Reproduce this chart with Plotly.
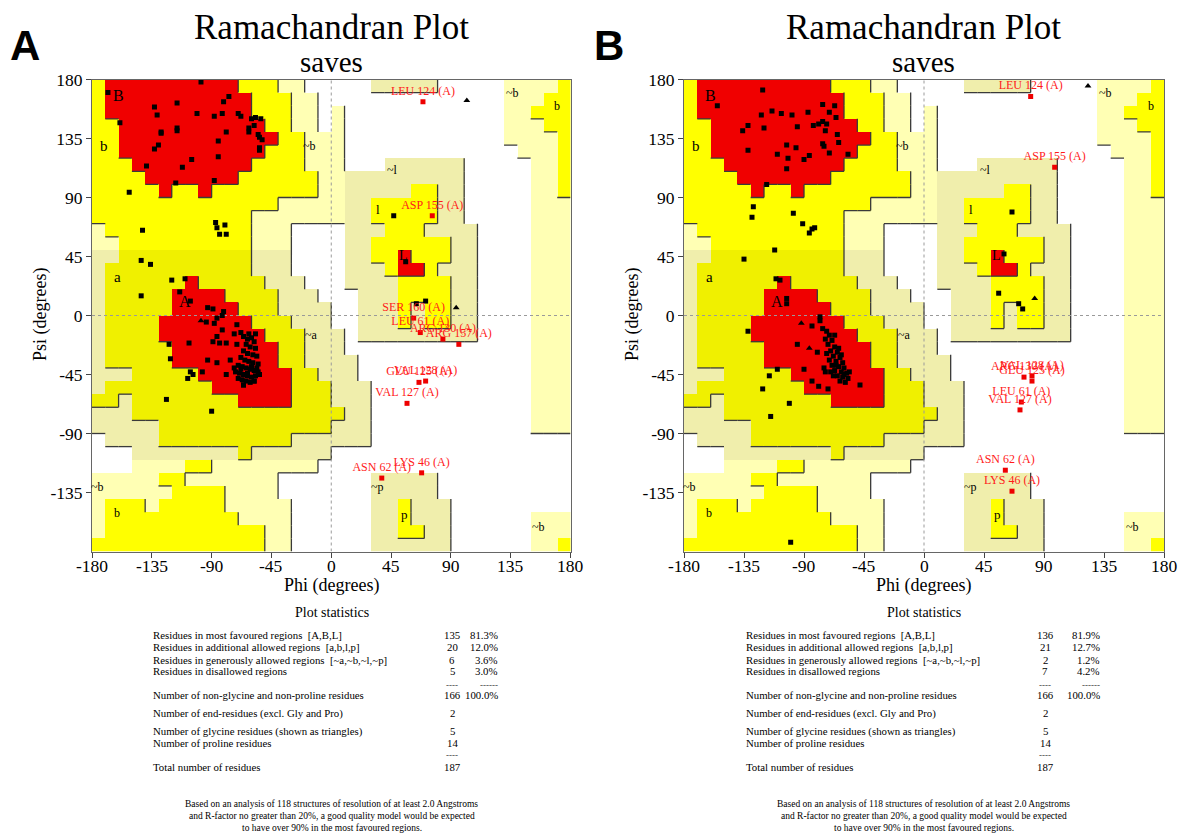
import plotly.graph_objects as go

W, H = 1183, 833
SERIF = "Liberation Serif"

PHI_TICKS = [-180, -135, -90, -45, 0, 45, 90, 135, 180]
PSI_TICKS = [-135, -90, -45, 0, 45, 90, 135, 180]

# PROCHECK region map, 10-degree cells. Rows: psi 170..180 (top) down to psi -180..-170.
# Columns: phi -180..-170 ... 170..180.
# '.' disallowed, 'g' ~b, 'e' ~a/~l/~p, 'y' b/l/p, 'a' a, 'r' A/B/L
REGION_ROWS = [
    "yrrrrrrrrrryyygg.....eeeee.....ggggy",  # 170
    "yrrrrrrrrrrryyygg..............gggyy",  # 160
    "yrrrrrrrrrrryyygg.g............ggyyy",  # 150
    "yyrrrrrrrrrrryygg.g............gggyy",  # 140
    "yyrrrrrrrrrrrryyggg............ggggy",  # 130
    "yyrrrrrrrrrrryyyggg.............gggy",  # 120
    "yyyrrrrrrrrryyyyggg...eeeeee.....ggy",  # 110
    "yyyyrrrrrrryyyyyyggeeeeeeeee.....ggy",  # 100
    "yyyyyryyryyyyyyyyggeeeeeyyee.....ggy",  # 90
    "yyyyyyyyyyyyyygggggeeyyyyyee.....ggg",  # 80
    "yyyyyyyyyyyygggggggeeyyyyyee.....ggg",  # 70
    "gyyyyyyyyyyyggg....eeeyyyeeee....ggg",  # 60
    "ggyyyyyyyyyyggg....eeyyyyyyee....ggg",  # 50
    "eeaaaaaaaaaaeee....eeyyryyyee....ggg",  # 40
    "eaaaaaaaaaaaeee....eeeyrryeee....ggg",  # 30
    "eaaaaaaraaaaaeee...eeeeyyyyee....ggg",  # 20
    "eaaaaarrrraaaaeee...eeeyyyyee....ggg",  # 10
    "eaaaaarrrrraaaeeee..eeeyeyyee....ggg",  # 0
    "eaaaarrrrrrraaaeee..eeeyeyyee....ggg",  # -10
    "eaaaarrrrrrrraaaeee.eeeeeeeee....ggg",  # -20
    "eaaaaarrrrrrrraaeee..............ggg",  # -30
    "eaaaaarrrrrrrraaeeee.............ggg",  # -40
    "eeeaaaaarrrrrrraaeee.............ggg",  # -50
    "eaaaaaaaarrrrrraaaeee............ggg",  # -60
    "aaeaaaaaaaarrrraaaeee............ggg",  # -70
    "eeeaaaaaaaaaaaaaaaaee............ggg",  # -80
    "eeeeeaaaaaaaaaaaaaeee............ggg",  # -90
    ".eeeeaaaaaaaaaaeeeeee...............",  # -100
    "...eeeeeeeeaeeeeee..................",  # -110
    "...ggggyygggggggg...................",  # -120
    "gggggyyggggggg.......eeeee..........",  # -130
    "ggggggyyyygggg.......eeeee..........",  # -140
    "gyyygyyyyyggggg......eeyeee.........",  # -150
    "gyyyyyyyyyygggg......eeyeee......ggg",  # -160
    "gyyyyyyyyyyyygg......eeyyee......ggg",  # -170
    "yyyyyyyyyyyyygg......eeeeee......ggy",  # -180
]
REGION_CODE = {".": 0, "g": 1, "e": 2, "y": 3, "a": 4, "r": 5}
REGION_RANK = {".": 0, "g": 1, "e": 1, "y": 2, "a": 2, "r": 3}
REGION_COLORS = ["#ffffff", "#ffffb4", "#f0eeac", "#ffff00", "#f0f000", "#f00000"]

REGION_LABELS = ["B", "b", "A", "a", "~b", "~a", "l", "L", "~l", "~b", "b", "~b", "b", "~p", "p", "~b"]
REGION_LABEL_PHI = [-160, -171, -110, -161, -16, -15, 35, 54, 46, 136, 170, -176, -161, 35, 55, 156]
REGION_LABEL_PSI = [168, 129, 11, 29, 129, -15, 81, 46, 111, 170, 160, -131, -151, -131, -152, -161]
REGION_LABEL_SIZE = [16, 15, 16, 15, 12, 12, 13, 14, 12, 12, 12, 12, 12, 12, 13, 12]

# ---------------- Panel A data ----------------
A_SQ_PHI = [-98, -168, -116, -133, -131, -101, -81, -77, -88, -82, -70, -68, -60, -57, -53, -159, -62, -58, -62, -55,
            -54, -52, -54, -54, -79, -85, -128, -128, -116, -116, -130, -133, -85, -105, -112, -139, -88, -117, -152,
            -87, -86, -80, -84, -79, -142, -143, -136, -120, -110, -114, -143, -106, -93, -89, -81, -82, -86, -94,
            -88, -71, -82, -73, -68, -62, -57, -86, -89, -84, -79, -71, -122, -107, -121, -93, -86, -76, -97, -106,
            -104, -108, -79, -124, -90, -66, -58,
            -66, -63, -60, -58, -64, -61, -57, -66, -63, -59, -56, -68, -65, -62, -59, -55, -70, -67, -64, -61, -58,
            -55, -72, -69, -66, -63, -60, -57, -54, -70, -67, -64, -61, -58, -66, -63, -60, -68, -73, -56,
            47, 56, 64, 71]
A_SQ_PSI = [178, 170, 162, 159, 153, 154, 163, 167, 152, 154, 154, 152, 150, 151, 150, 147, 143, 145, 140, 138,
            136, 134, 128, 126, 140, 133, 140, 139, 143, 141, 130, 127, 121, 119, 113, 114, 103, 101, 94,
            71, 67, 69, 62, 62, 65, 42, 39, 27, 28, 18, 15, 11, 6, 5, 3, 0, -2, -5,
            -6, -7, -11, -14, -13, -14, -14, -16, -20, -21, -21, -22, -22, -21, -33, -34, -36, -34, -43, -43,
            -45, -48, -45, -64, -73, -53, -50,
            -16, -18, -17, -20, -22, -24, -25, -27, -29, -30, -31, -32, -34, -35, -36, -37, -38, -39, -40, -41, -42,
            -43, -43, -44, -45, -46, -47, -46, -45, -48, -49, -50, -51, -50, -53, -44, -39, -41, -40, -40,
            76, 41, 9, 11]
A_GLY_PHI = [102, 94, -98]
A_GLY_PSI = [164, 6, -4]
A_OUT_LABEL = ["LEU 124 (A)", "ASP 155 (A)", "SER 160 (A)", "LEU 61 (A)", "ARG 130 (A)", "ARG 157 (A)",
               "GLU 125 (A)", "VAL 128 (A)", "VAL 127 (A)", "LYS 46 (A)", "ASN 62 (A)"]
A_OUT_PHI = [69, 76, 62, 67, 84, 96, 66, 71, 57, 68, 38]
A_OUT_PSI = [163, 76, -2, -13, -18, -22, -51, -50, -67, -120, -124]

# ---------------- Panel B data ----------------
B_SQ_PHI = [-121, -155, -76, -67, -114, -107, -99, -122, -87, -71, -66, -132, -136, -120, -95, -83, -79, -76, -73,
            -74, -65, -103, -96, -76, -75, -64, -132, -110, -102, -90, -86, -71, -57, -103, -118, -128, -129, -98,
            -91, -86, -84, -82, -112, -135, -111, -108, -103, -103, -84, -78, -78, -132, -95, -80, -90, -110, -116,
            -121, -101, -115, -84, -79, -72, -74, -48, -100,
            -76, -73, -71, -74, -69, -72, -67, -70, -65, -68, -63, -71, -66, -61, -69, -64, -60, -67, -62, -58, -65,
            -61, -57, -63, -59, -66, -62, -73, -60, -68, -75, -70, -56, -64, -67,
            66, 60, 56, 71, 74]
B_SQ_PSI = [172, 160, 161, 160, 156, 154, 153, 153, 155, 155, 151, 145, 141, 143, 144, 145, 146, 148, 146,
            141, 138, 130, 128, 131, 129, 132, 126, 123, 120, 119, 122, 124, 123, 112, 100, 83, 75, 78,
            70, 63, 66, 67, 50, 43, 28, 27, 13, 9, -8, -4, -1, -12, -22, -28, -41, -41, -46,
            -56, -67, -77, -50, -54, -56, -43, -53, -173,
            -10, -12, -15, -18, -19, -22, -24, -27, -28, -31, -32, -34, -35, -36, -38, -39, -40, -42, -43, -44, -46,
            -47, -48, -50, -51, -38, -30, -29, -45, -46, -40, -43, -43, -25, -15,
            79, 47, 17, 9, 5]
B_GLY_PHI = [123, 83, -92, -86]
B_GLY_PSI = [175, 13, -6, -25]
B_OUT_LABEL = ["LEU 124 (A)", "ASP 155 (A)", "ARG 130 (A)", "VAL 128 (A)", "GLU 125 (A)", "LEU 61 (A)",
               "VAL 127 (A)", "ASN 62 (A)", "LYS 46 (A)"]
B_OUT_PHI = [80, 98, 75, 81, 81, 73, 72, 61, 66]
B_OUT_PSI = [167, 113, -47, -46, -50, -66, -72, -118, -134]

# ---------------- Statistics ----------------
STAT_LABELS = ["Residues in most favoured regions\u00a0\u00a0[A,B,L]",
               "Residues in additional allowed regions\u00a0\u00a0[a,b,l,p]",
               "Residues in generously allowed regions\u00a0\u00a0[~a,~b,~l,~p]",
               "Residues in disallowed regions",
               "Number of non-glycine and non-proline residues",
               "Number of end-residues (excl. Gly and Pro)",
               "Number of glycine residues (shown as triangles)",
               "Number of proline residues",
               "Total number of residues"]
A_COUNTS = ["135", "20", "6", "5", "166", "2", "5", "14", "187"]
A_PCTS = ["81.3%", "12.0%", "3.6%", "3.0%", "100.0%", "", "", "", ""]
B_COUNTS = ["136", "21", "2", "7", "166", "2", "5", "14", "187"]
B_PCTS = ["81.9%", "12.7%", "1.2%", "4.2%", "100.0%", "", "", "", ""]
FOOTER = ["Based on an analysis of 118 structures of resolution of at least 2.0 Angstroms",
          "and R-factor no greater than 20%, a good quality model would be expected",
          "to have over 90% in the most favoured regions."]

# ---------------- Layout geometry (pixels) ----------------
PANELS = [
    dict(name="A", xa="x", ya="y", x0=92, x1=570.5, sq=(A_SQ_PHI, A_SQ_PSI), gly=(A_GLY_PHI, A_GLY_PSI),
         out=(A_OUT_PHI, A_OUT_PSI, A_OUT_LABEL), counts=A_COUNTS, pcts=A_PCTS,
         cx=331.5, left=151, numc=452, pctr=500, lab=(25, 45), ylab=40),
    dict(name="B", xa="x2", ya="y2", x0=684, x1=1164, sq=(B_SQ_PHI, B_SQ_PSI), gly=(B_GLY_PHI, B_GLY_PSI),
         out=(B_OUT_PHI, B_OUT_PSI, B_OUT_LABEL), counts=B_COUNTS, pcts=B_PCTS,
         cx=923.5, left=743.5, numc=1045, pctr=1102, lab=(609, 45), ylab=632),
]
Y_TOP, Y_BOT = 79.5, 551.5


def px(x):
    return x / W


def py(y):
    return 1 - y / H


def txt(x, y, text, size, xanchor="center", family=SERIF, color="black", angle=0):
    return dict(x=px(x), y=py(y), xref="paper", yref="paper", text=text, showarrow=False,
                xanchor=xanchor, yanchor="middle", textangle=angle,
                font=dict(family=family, size=size, color=color))


fig = go.Figure()
annotations = []

n = len(REGION_COLORS)
colorscale = []
for k, c in enumerate(REGION_COLORS):
    lo = max(0.0, (k - 0.5) / (n - 1))
    hi = min(1.0, (k + 0.5) / (n - 1))
    colorscale += [[lo, c], [hi, c]]

z = [[REGION_CODE[ch] for ch in row] for row in REGION_ROWS]
xs = [-175 + 10 * j for j in range(36)]
ys = [175 - 10 * i for i in range(36)]

# boundary (shadow) lines: right and bottom edges of more-allowed cells
lx, ly = [], []
for i in range(36):
    for j in range(36):
        r = REGION_RANK[REGION_ROWS[i][j]]
        top = 180 - 10 * i
        left = -180 + 10 * j
        if j < 35 and r > REGION_RANK[REGION_ROWS[i][j + 1]]:
            lx += [left + 10, left + 10, None]
            ly += [top, top - 10, None]
        if i < 35 and r > REGION_RANK[REGION_ROWS[i + 1][j]]:
            lx += [left, left + 10, None]
            ly += [top - 10, top - 10, None]

row_y = [635, 647.4, 659.5, 671, 695.3, 713.2, 731.1, 743, 767.2]

for p in PANELS:
    xa, ya = p["xa"], p["ya"]
    fig.add_trace(go.Heatmap(z=z, x=xs, y=ys, zmin=0, zmax=n - 1, colorscale=colorscale, showscale=False,
                             xaxis=xa, yaxis=ya, hoverinfo="skip"))
    fig.add_trace(go.Scatter(x=lx, y=ly, mode="lines", line=dict(color="#3a3a3a", width=1.3),
                             xaxis=xa, yaxis=ya, hoverinfo="skip"))
    fig.add_trace(go.Scatter(x=[0, 0, None, -180, 180], y=[-180, 180, None, 0, 0], mode="lines",
                             line=dict(color="#9a9a9a", width=1, dash="dot"), xaxis=xa, yaxis=ya, hoverinfo="skip"))
    fig.add_trace(go.Scatter(x=p["sq"][0], y=p["sq"][1], mode="markers",
                             marker=dict(symbol="square", size=5, color="black"), xaxis=xa, yaxis=ya))
    fig.add_trace(go.Scatter(x=p["gly"][0], y=p["gly"][1], mode="markers",
                             marker=dict(symbol="triangle-up", size=6, color="black"), xaxis=xa, yaxis=ya))
    fig.add_trace(go.Scatter(x=p["out"][0], y=p["out"][1], text=p["out"][2], mode="markers+text",
                             textposition="top center",
                             textfont=dict(family=SERIF, size=12, color="#ff1a1a"),
                             marker=dict(symbol="square", size=5, color="#ee0000"), xaxis=xa, yaxis=ya))
    for t, a, b, s in zip(REGION_LABELS, REGION_LABEL_PHI, REGION_LABEL_PSI, REGION_LABEL_SIZE):
        annotations.append(dict(x=a, y=b, xref=xa, yref=ya, text=t, showarrow=False,
                                font=dict(family=SERIF, size=s, color="black")))
    # x tick labels (placed explicitly to sit close to the axis like the original)
    for v in PHI_TICKS:
        annotations.append(dict(x=v, y=py(566), xref=xa, yref="paper", text=str(v), showarrow=False,
                                xanchor="center", yanchor="middle",
                                font=dict(family=SERIF, size=17.5, color="black")))
    annotations.append(txt(p["cx"], 585, "Phi (degrees)", 18))
    annotations.append(txt(p["cx"], 28, "Ramachandran Plot", 35))
    annotations.append(txt(p["cx"], 62, "saves", 29))
    annotations.append(txt(p["lab"][0], p["lab"][1], "<b>%s</b>" % p["name"], 42, family="Liberation Sans"))
    annotations.append(txt(p["ylab"], 315, "Psi (degrees)", 18, angle=-90))
    annotations.append(txt(p["cx"], 612, "Plot statistics", 14))
    for lbl, cnt, pct, yy in zip(STAT_LABELS, p["counts"], p["pcts"], row_y):
        annotations.append(txt(p["left"], yy, lbl, 10.8, xanchor="left"))
        annotations.append(txt(p["numc"], yy, cnt, 10.8))
        if pct:
            annotations.append(txt(p["pctr"], yy, pct, 10.8, xanchor="right"))
    for t, xx, anc, yy in [("----", p["numc"], "center", 684.5), ("------", p["pctr"], "right", 684.5),
                           ("----", p["numc"], "center", 755.4)]:
        annotations.append(txt(xx, yy, t, 9, xanchor=anc, color="#333"))
    for t, yy in zip(FOOTER, [804.3, 816.2, 828]):
        annotations.append(txt(p["cx"], yy, t, 9.5))

axis_common = dict(range=[-180, 180], showgrid=False, zeroline=False, ticks="outside", ticklen=5,
                   tickcolor="#444", showline=True, mirror=True, linecolor="#666", linewidth=1,
                   automargin=False, tickfont=dict(family=SERIF, size=17.5, color="black"))
layout_axes = {}
for k, p in enumerate(PANELS):
    sfx = "" if k == 0 else "2"
    layout_axes["xaxis" + sfx] = dict(axis_common, domain=[px(p["x0"]), px(p["x1"])], anchor="y" + sfx,
                                      tickvals=PHI_TICKS, showticklabels=False)
    layout_axes["yaxis" + sfx] = dict(axis_common, domain=[py(Y_BOT), py(Y_TOP)], anchor="x" + sfx,
                                      tickvals=PSI_TICKS, ticktext=[str(v) for v in PSI_TICKS])

fig.update_layout(width=W, height=H, autosize=False, margin=dict(l=0, r=0, t=0, b=0, pad=0),
                  paper_bgcolor="white", plot_bgcolor="white", showlegend=False,
                  annotations=annotations, **layout_axes)

fig.write_html("out.html", config={"displayModeBar": False, "responsive": False},
               post_script="document.body.style.margin='0px';document.body.style.overflow='hidden';")
